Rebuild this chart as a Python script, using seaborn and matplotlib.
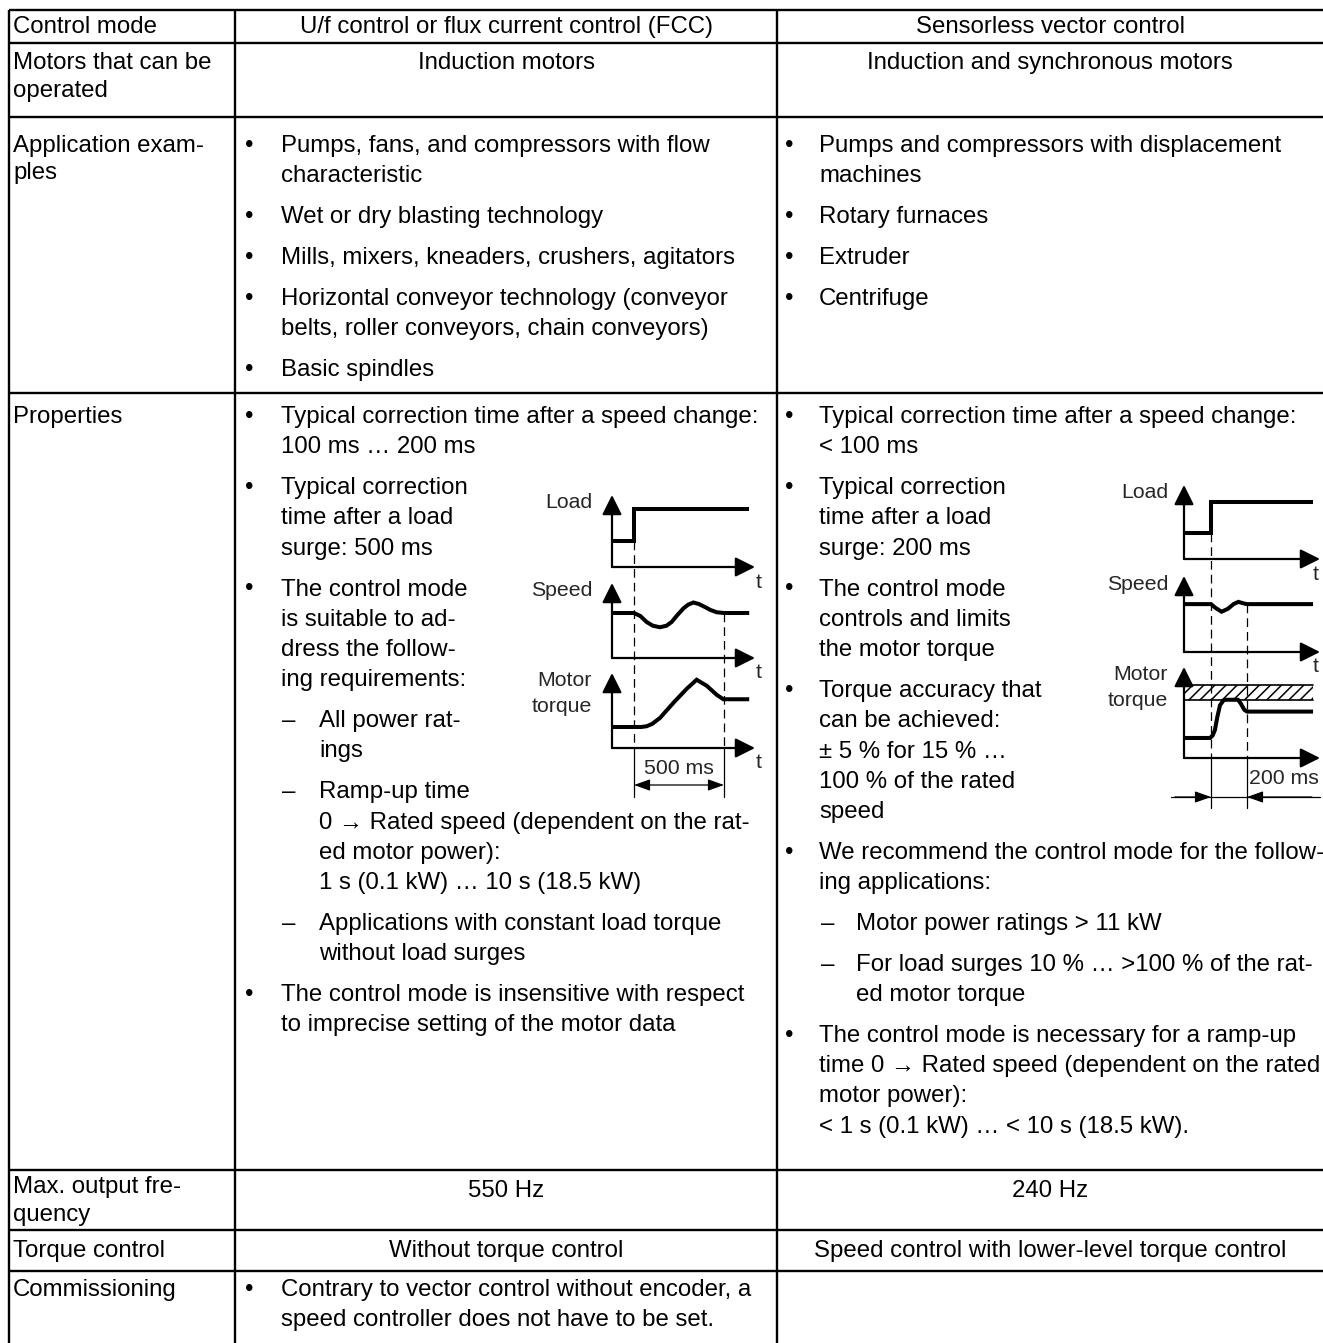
import matplotlib
matplotlib.use("Agg")
import matplotlib.pyplot as plt
import seaborn as sns
from matplotlib import transforms

sns.set_theme(style="white")
plt.rcParams['font.family'] = ['Liberation Sans', 'DejaVu Sans']
plt.rcParams['hatch.linewidth'] = 1.1

# ---------------- table content ----------------
header = ["Control mode", "U/f control or flux current control (FCC)", "Sensorless vector control"]
row_labels = [["Motors that can be", "operated"], ["Application exam-", "ples"], ["Properties"],
              ["Max. output fre-", "quency"], ["Torque control"], ["Commissioning"]]

motors = ["Induction motors", "Induction and synchronous motors"]
max_freq = ["550 Hz", "240 Hz"]
torque_ctrl = ["Without torque control", "Speed control with lower-level torque control"]

apps_fcc = [
    ("b", ["Pumps, fans, and compressors with flow", "characteristic"]),
    ("b", ["Wet or dry blasting technology"]),
    ("b", ["Mills, mixers, kneaders, crushers, agitators"]),
    ("b", ["Horizontal conveyor technology (conveyor", "belts, roller conveyors, chain conveyors)"]),
    ("b", ["Basic spindles"]),
]
apps_svc = [
    ("b", ["Pumps and compressors with displacement", "machines"]),
    ("b", ["Rotary furnaces"]),
    ("b", ["Extruder"]),
    ("b", ["Centrifuge"]),
]
props_fcc = [
    ("b", ["Typical correction time after a speed change:", "100 ms \u2026 200 ms"]),
    ("b", ["Typical correction", "time after a load", "surge: 500 ms"]),
    ("b", ["The control mode", "is suitable to ad-", "dress the follow-", "ing requirements:"]),
    ("d", ["All power rat-", "ings"]),
    ("d", ["Ramp-up time", "0 \u2192 Rated speed (dependent on the rat-", "ed motor power):",
           "1 s (0.1 kW) \u2026 10 s (18.5 kW)"]),
    ("d", ["Applications with constant load torque", "without load surges"]),
    ("b", ["The control mode is insensitive with respect", "to imprecise setting of the motor data"]),
]
props_svc = [
    ("b", ["Typical correction time after a speed change:", "< 100 ms"]),
    ("b", ["Typical correction", "time after a load", "surge: 200 ms"]),
    ("b", ["The control mode", "controls and limits", "the motor torque"]),
    ("b", ["Torque accuracy that", "can be achieved:", "\u00b1 5 % for 15 % \u2026", "100 % of the rated", "speed"]),
    ("b", ["We recommend the control mode for the follow-", "ing applications:"]),
    ("d", ["Motor power ratings > 11 kW"]),
    ("d", ["For load surges 10 % \u2026 >100 % of the rat-", "ed motor torque"]),
    ("b", ["The control mode is necessary for a ramp-up", "time 0 \u2192 Rated speed (dependent on the rated",
           "motor power):", "< 1 s (0.1 kW) \u2026 < 10 s (18.5 kW)."]),
]
comm_fcc = [("b", ["Contrary to vector control without encoder, a", "speed controller does not have to be set."])]

# ---------------- diagram signals (time in ms, level 0..1 of panel) ----------------
fcc_load_t = [-122, 0, 0, 640]
fcc_load_v = [0.36, 0.36, 0.81, 0.81]
fcc_speed_t = [-122, 0, 35, 70, 105, 144, 180, 209, 240, 274, 300, 330, 360, 394, 425, 459, 480, 500, 640]
fcc_speed_v = [0.60, 0.60, 0.56, 0.48, 0.43, 0.41, 0.43, 0.48, 0.57, 0.66, 0.71, 0.74, 0.72, 0.68, 0.64, 0.61, 0.605, 0.60, 0.60]
fcc_torque_t = [-122, 40, 70, 100, 144, 218, 293, 348, 404, 459, 496, 640]
fcc_torque_v = [0.28, 0.28, 0.29, 0.32, 0.40, 0.60, 0.79, 0.91, 0.83, 0.71, 0.65, 0.65]

svc_load_t = [-150, 0, 0, 567]
svc_load_v = [0.35, 0.35, 0.77, 0.77]
svc_speed_t = [-150, 0, 25, 59, 95, 125, 152, 180, 200, 567]
svc_speed_v = [0.63, 0.63, 0.58, 0.53, 0.57, 0.63, 0.66, 0.64, 0.63, 0.63]
svc_torque_t = [-150, -5, 10, 22, 35, 50, 68, 80, 150, 165, 185, 200, 567]
svc_torque_v = [0.22, 0.22, 0.25, 0.31, 0.45, 0.58, 0.63, 0.64, 0.64, 0.60, 0.53, 0.51, 0.51]
svc_limit = (0.64, 0.80)

# ---------------- layout (pixels) ----------------
W, H = 1323, 1343
col_x = [9, 235, 777]
row_y = [10, 43, 117, 393, 1170, 1230, 1271]
FS = 17.3
FS_DIAG = 15.3
LINE = 30.3
STEP = 40.8

fig = plt.figure(figsize=(W / 100, H / 100), dpi=100)
ax = fig.add_axes([0, 0, 1, 1])
ax.set_xlim(0, W)
ax.set_ylim(H, 0)
ax.axis('off')

# grid
for x in col_x:
    ax.plot([x, x], [row_y[0], H], color='black', lw=1.7, solid_capstyle='butt')
for y in row_y:
    ax.plot([col_x[0], W], [y, y], color='black', lw=1.7, solid_capstyle='butt')


def txt(x, y, s, ha='left', size=FS):
    ax.text(x, y, s, ha=ha, va='center', fontsize=size, color='black')


def cell(paras, y0, xb, xt, xd, xdt):
    y = y0
    for i, (kind, lines) in enumerate(paras):
        if kind == 'b':
            txt(xb, y, "\u2022", ha='center')
        elif kind == 'd':
            txt(xd, y, "\u2013", ha='center')
        x = xdt if kind == 'd' else xt
        for j, line in enumerate(lines):
            txt(x, y + j * LINE, line)
        y += (len(lines) - 1) * LINE + STEP


# header + left labels
txt(13, 27, header[0])
txt((col_x[1] + col_x[2]) / 2, 27, header[1], ha='center')
txt((col_x[2] + W) / 2, 27, header[2], ha='center')

label_y = [63, 146, 417, 1187, 1251, 1290]
for lab, y0 in zip(row_labels, label_y):
    for j, line in enumerate(lab):
        txt(13, y0 + j * 27.5, line)

mid1 = (col_x[1] + col_x[2]) / 2
mid2 = (col_x[2] + W) / 2
txt(mid1, 63, motors[0], ha='center')
txt(mid2, 63, motors[1], ha='center')
txt(mid1, 1191, max_freq[0], ha='center')
txt(mid2, 1191, max_freq[1], ha='center')
txt(mid1, 1251, torque_ctrl[0], ha='center')
txt(mid2, 1251, torque_ctrl[1], ha='center')

cell(apps_fcc, 146, 249, 281, 289, 319)
cell(apps_svc, 146, 789, 819, 828, 856)
cell(props_fcc, 417, 249, 281, 289, 319)
cell(props_svc, 417, 789, 819, 828, 856)
cell(comm_fcc, 1290, 249, 281, 289, 319)


# ---------------- timing diagrams ----------------
def panel(x0, x_tip, y_base, y_tip, t_zero_px, px_per_ms, t, v, label, label_x, t_x):
    pa = fig.add_axes([x0 / W, 1 - y_base / H, (x_tip - x0) / W, (y_base - y_tip) / H])
    pa.set_xlim((x0 - t_zero_px) / px_per_ms, (x_tip - t_zero_px) / px_per_ms)
    pa.set_ylim(0, 1)
    pa.axis('off')
    pa.patch.set_alpha(0)
    sns.lineplot(x=t, y=v, ax=pa, color='black', lw=2.9, sort=False, estimator=None,
                 solid_joinstyle='miter', solid_capstyle='butt')
    ap = dict(arrowstyle='-|>,head_length=0.6,head_width=0.3', color='black', lw=1.6,
              shrinkA=0, shrinkB=0, mutation_scale=20)
    pa.annotate("", xy=(1, 0), xytext=(0, 0), xycoords='axes fraction', arrowprops=ap)
    pa.annotate("", xy=(0, 1), xytext=(0, 0), xycoords='axes fraction', arrowprops=ap)
    for j, line in enumerate(label):
        ax.text(label_x, y_tip + 8 + j * 25, line, ha='right', va='center', fontsize=FS_DIAG)
    if t_x is not None:
        ax.text(t_x, y_base + 15, "t", ha='left', va='center', fontsize=FS_DIAG)
    return pa


PX_MS = 0.18
# FCC diagram
x0, xt, t0 = 612, 755, 634
p1 = panel(x0, xt, 567, 495, t0, PX_MS, fcc_load_t, fcc_load_v, ["Load"], 592, 756)
p2 = panel(x0, xt, 658, 583, t0, PX_MS, fcc_speed_t, fcc_speed_v, ["Speed"], 592, 756)
p3 = panel(x0, xt, 748, 673, t0, PX_MS, fcc_torque_t, fcc_torque_v, ["Motor", "torque"], 592, 756)
tr = transforms.blended_transform_factory(p3.transData, ax.transData)
for tm, ytop in [(0, 541), (500, 613)]:
    p3.plot([tm, tm], [ytop, 748], transform=tr, color='black', lw=0.9, ls=(0, (7, 4)), clip_on=False)
    p3.plot([tm, tm], [748, 797], transform=tr, color='black', lw=0.9, clip_on=False)
p3.annotate("", xy=(500, 785), xytext=(0, 785), xycoords=tr, textcoords=tr,
            arrowprops=dict(arrowstyle='<|-|>,head_length=0.7,head_width=0.25', color='black', lw=0.9,
                            shrinkA=0, shrinkB=0, mutation_scale=14), annotation_clip=False)
ax.text(679, 769, "500 ms", ha='center', va='center', fontsize=FS_DIAG)

# SVC diagram (torque "t" label is cut off by the page edge in the source)
x0, xt, t0 = 1184, 1320, 1211
q1 = panel(x0, xt, 559, 485, t0, PX_MS, svc_load_t, svc_load_v, ["Load"], 1168, 1313)
q2 = panel(x0, xt, 652, 576, t0, PX_MS, svc_speed_t, svc_speed_v, ["Speed"], 1168, 1313)
q3 = panel(x0, xt, 758, 667, t0, PX_MS, svc_torque_t, svc_torque_v, ["Motor", "torque"], 1168, None)
q3.fill_between([-150, 567], svc_limit[0], svc_limit[1], facecolor='white', edgecolor='black',
                hatch='///', lw=0, zorder=0)
q3.plot([-150, 567], [svc_limit[0]] * 2, color='black', lw=1.2, zorder=1)
q3.plot([-150, 567], [svc_limit[1]] * 2, color='black', lw=1.2, zorder=1)
tr = transforms.blended_transform_factory(q3.transData, ax.transData)
for tm, ytop in [(0, 533), (200, 604)]:
    q3.plot([tm, tm], [ytop, 758], transform=tr, color='black', lw=0.9, ls=(0, (7, 4)), clip_on=False)
    q3.plot([tm, tm], [758, 808], transform=tr, color='black', lw=0.9, clip_on=False)
q3.plot([-220, 606], [797, 797], transform=tr, color='black', lw=0.9, clip_on=False)
small = dict(arrowstyle='-|>,head_length=0.7,head_width=0.25', color='black', lw=0.9,
             shrinkA=0, shrinkB=0, mutation_scale=14)
q3.annotate("", xy=(0, 797), xytext=(-200, 797), xycoords=tr, textcoords=tr, arrowprops=small,
            annotation_clip=False)
q3.annotate("", xy=(200, 797), xytext=(560, 797), xycoords=tr, textcoords=tr, arrowprops=small,
            annotation_clip=False)
ax.text(1249, 779, "200 ms", ha='left', va='center', fontsize=FS_DIAG)

fig.savefig("out.png", dpi=100)
